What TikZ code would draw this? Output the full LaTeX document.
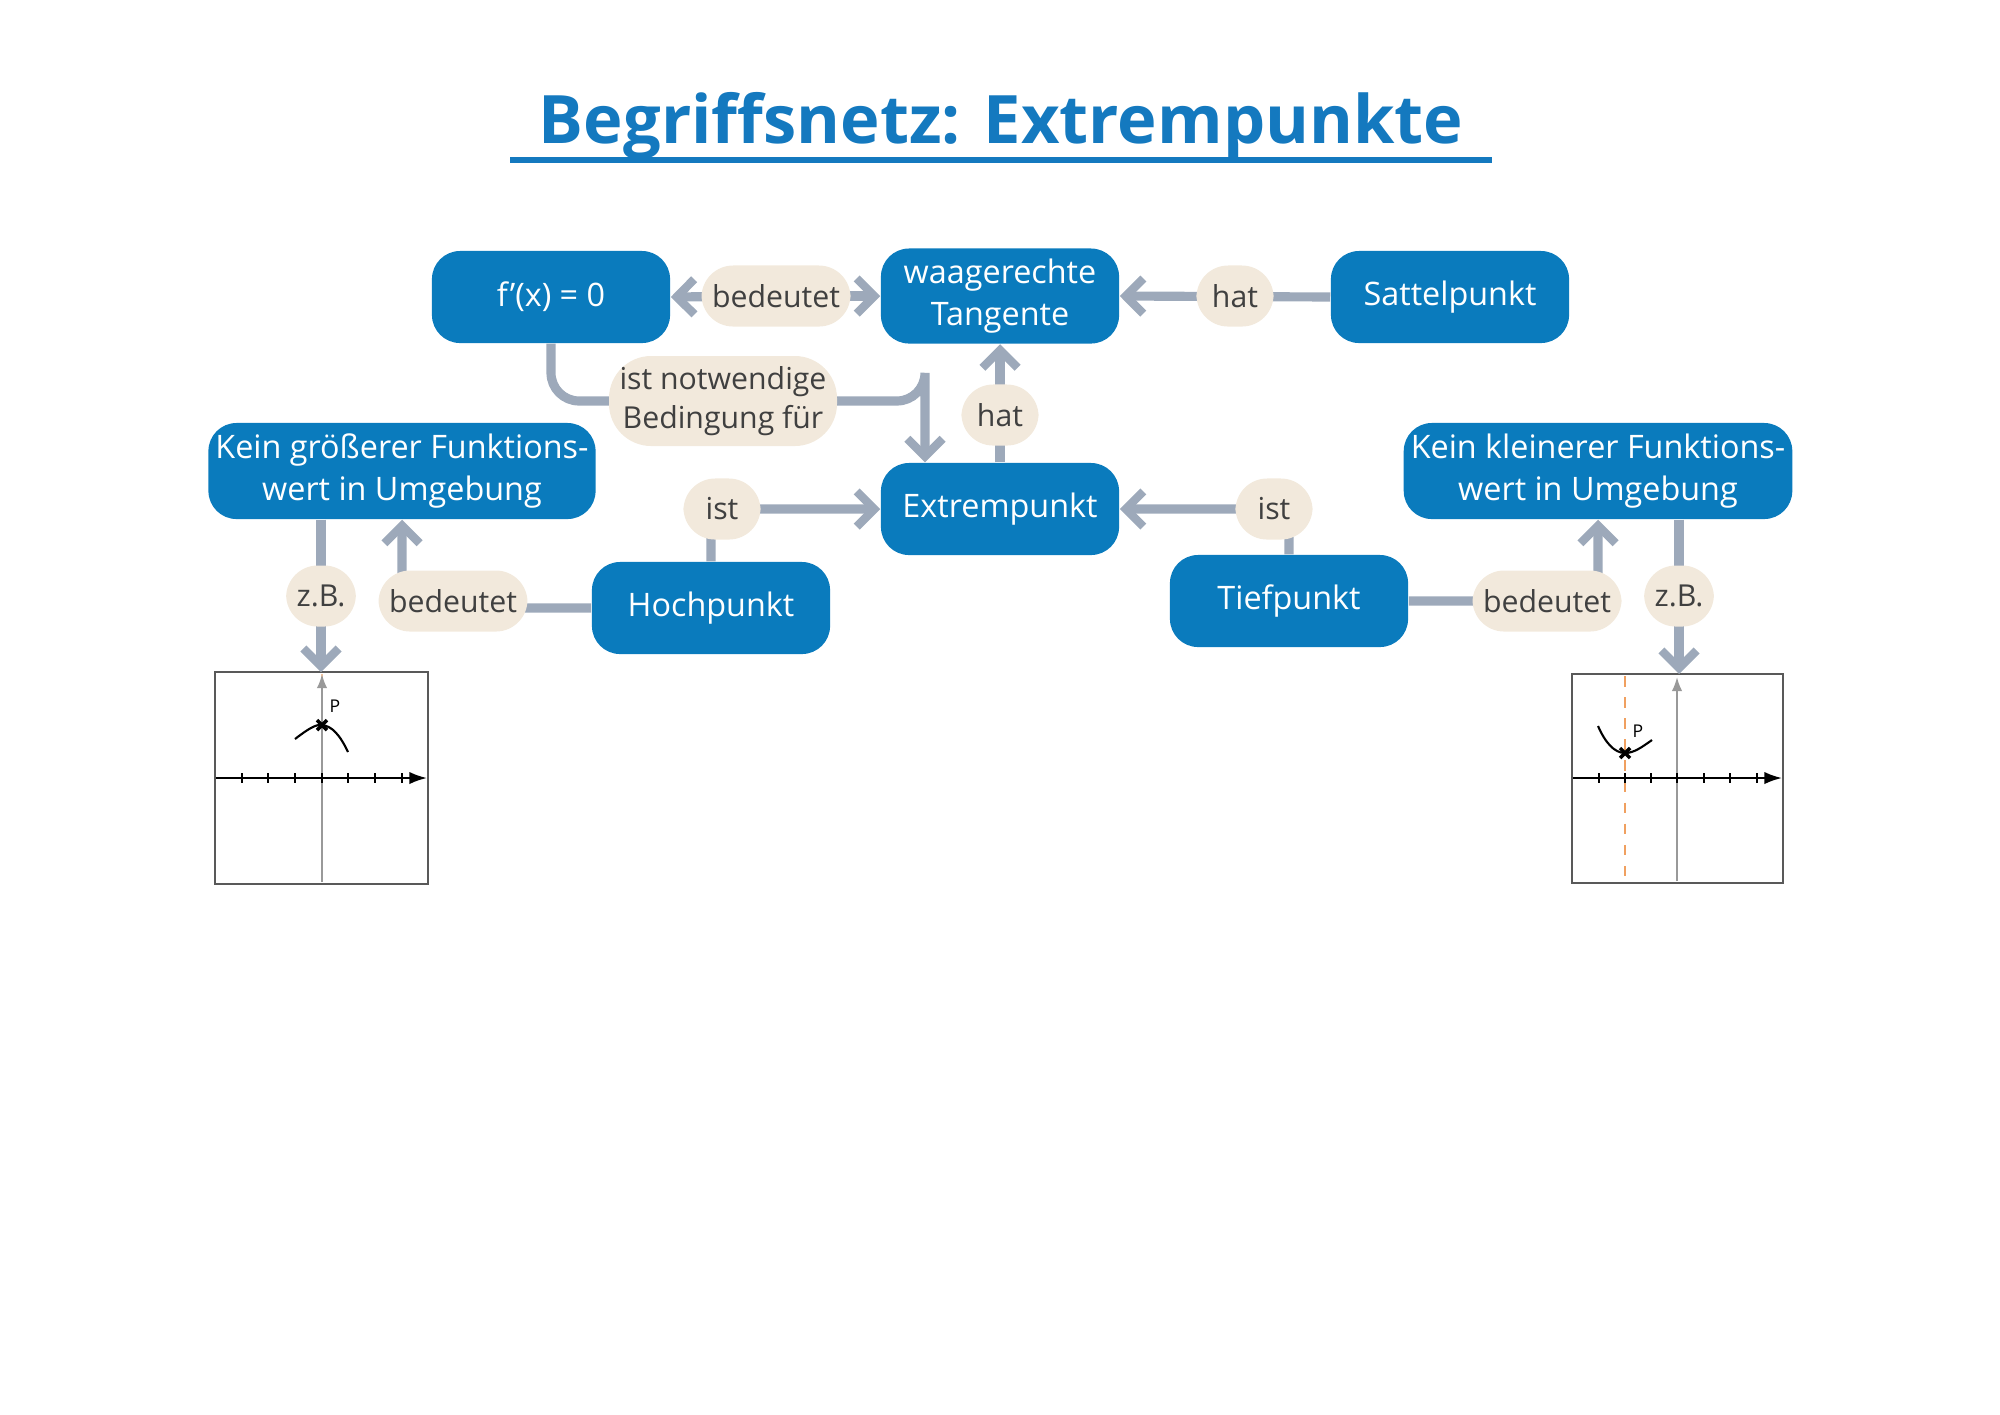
\documentclass[tikz,border=0pt]{standalone}
\usepackage{fontspec}
\setmainfont{Open Sans}
\usetikzlibrary{arrows.meta}
\definecolor{boxc}{HTML}{0A7BBD}
\definecolor{lab}{HTML}{F2E9DC}
\definecolor{con}{HTML}{9DA9BA}
\definecolor{ttl}{HTML}{1479BF}
\definecolor{orng}{HTML}{F0A060}
\begin{document}
\begin{tikzpicture}[x=0.01cm,y=-0.01cm,
 box/.style={fill=boxc,rounded corners=8pt,text=white,minimum width=2.38cm,minimum height=0.92cm,align=center,font=\fontsize{9.2}{12}\selectfont,inner sep=2pt},
 lbl/.style={fill=lab,rounded corners=9pt,text=black!75,minimum height=0.61cm,align=center,font=\fontsize{8.6}{11}\selectfont,inner sep=3pt},
 con/.style={draw=con,line width=2.6pt,rounded corners=8pt},
 tip/.style={-{Straight Barb[length=5pt,width=10pt,line width=2.4pt]}},
 ax/.style={line width=0.6pt}]
\useasboundingbox (0,0) rectangle (2000,1414);
\node[text=ttl,font=\fontsize{19}{22}\bfseries\selectfont] (title) at (1001,126) {Begriffsnetz: Extrempunkte};
\draw[ttl,line width=1.6pt] (510,160) -- (1492,160);
% boxes
\node[box] (f) at (551,297) {f’(x) = 0};
\node[box,minimum height=0.95cm] (w) at (1000,296) {waagerechte\\Tangente};
\node[box] (s) at (1450,297) {Sattelpunkt};
\node[box] (e) at (1000,509) {Extrempunkt};
\node[box,minimum width=3.78cm,minimum height=0.96cm] (kg) at (402,471) {Kein größerer Funktions-\\wert in Umgebung};
\node[box,minimum width=3.78cm,minimum height=0.96cm] (kk) at (1598,471) {Kein kleinerer Funktions-\\wert in Umgebung};
\node[box] (h) at (711,608) {Hochpunkt};
\node[box] (t) at (1289,601) {Tiefpunkt};
% graph boxes
\node[draw=black!65,line width=0.7pt,minimum width=2.13cm,minimum height=2.12cm,inner sep=0] (g1) at (321.5,778) {};
\node[draw=black!65,line width=0.7pt,minimum width=2.11cm,minimum height=2.09cm,inner sep=0] (g2) at (1677.5,778.5) {};
\coordinate (g1t) at (321,672);
\coordinate (g2t) at (1679,674);
\coordinate (c1) at (925,401);
% connectors
\draw[con,tip] (776,296) -- (f.east);
\draw[con,tip] (776,296) -- (w.west);
\draw[con,tip] (s.west) -- (w.east);
\draw[con,tip] (f.south) |- (c1) -| (e.north -| c1);
\draw[con,tip] (e.north) -- (w.south);
\draw[con,tip] (h.north) |- (e.west);
\draw[con,tip] (t.north) |- (e.east);
\draw[con,tip] (h.west) -| (kg.south);
\draw[con,tip] (t.east) -| (kk.south);
\draw[con,tip] (kg.south -| g1t) -- (g1t);
\draw[con,tip] (kk.south -| g2t) -- (g2t);
% labels
\node[lbl,minimum width=1.33cm] (l1) at (776,296) {bedeutet};
\node[lbl,minimum width=0.77cm] (l2) at (1235,296) {hat};
\node[lbl,minimum width=2.04cm,minimum height=0.84cm,rounded corners=12pt] (l3) at (723,401) {ist notwendige\\Bedingung für};
\node[lbl,minimum width=0.77cm] (l4) at (1000,415) {hat};
\node[lbl,minimum width=0.77cm] (l5) at (722,509) {ist};
\node[lbl,minimum width=0.77cm] (l6) at (1274,509) {ist};
\node[lbl,minimum width=0.61cm] (l7) at (321,596) {z.B.};
\node[lbl,minimum width=1.33cm] (l8) at (453,601) {bedeutet};
\node[lbl,minimum width=1.33cm] (l9) at (1547,601) {bedeutet};
\node[lbl,minimum width=0.61cm] (l10) at (1679,596) {z.B.};
% graph 1
\draw[orng!60,dashed,line width=0.5pt] (322,674) -- (322,882);
\draw[black!40,line width=0.6pt,-{Latex[length=4pt,width=3pt]}] (322,882) -- (322,674);
\draw[ax,-{Latex[length=5pt,width=3.5pt]}] (216,778) -- (427,778);
\foreach \x in {242,268,295,322,348,375,402} \draw[ax] (\x,773) -- (\x,783);
\draw[line width=0.6pt] (295,739) .. controls (308,729) and (316,724) .. (322,725) .. controls (332,726) and (340,735) .. (348,752);
\draw[line width=1pt] (317,720) -- (327,730) (317,730) -- (327,720);
\node[font=\fontsize{5}{6}\selectfont] (p1) at (335,706) {P};
% graph 2
\draw[orng,dashed,line width=0.6pt] (1625,676) -- (1625,881);
\draw[black!40,line width=0.6pt,-{Latex[length=4pt,width=3pt]}] (1677,881) -- (1677,677);
\draw[ax,-{Latex[length=5pt,width=3.5pt]}] (1573,778) -- (1782,778);
\foreach \x in {1599,1625,1651,1677,1704,1730,1757} \draw[ax] (\x,773) -- (\x,783);
\draw[line width=0.6pt] (1598,726) .. controls (1605,742) and (1614,753) .. (1625,753) .. controls (1634,753) and (1642,747) .. (1652,740);
\draw[line width=1pt] (1620,748) -- (1630,758) (1620,758) -- (1630,748);
\node[font=\fontsize{5}{6}\selectfont] (p2) at (1638,731) {P};
\end{tikzpicture}
\end{document}
